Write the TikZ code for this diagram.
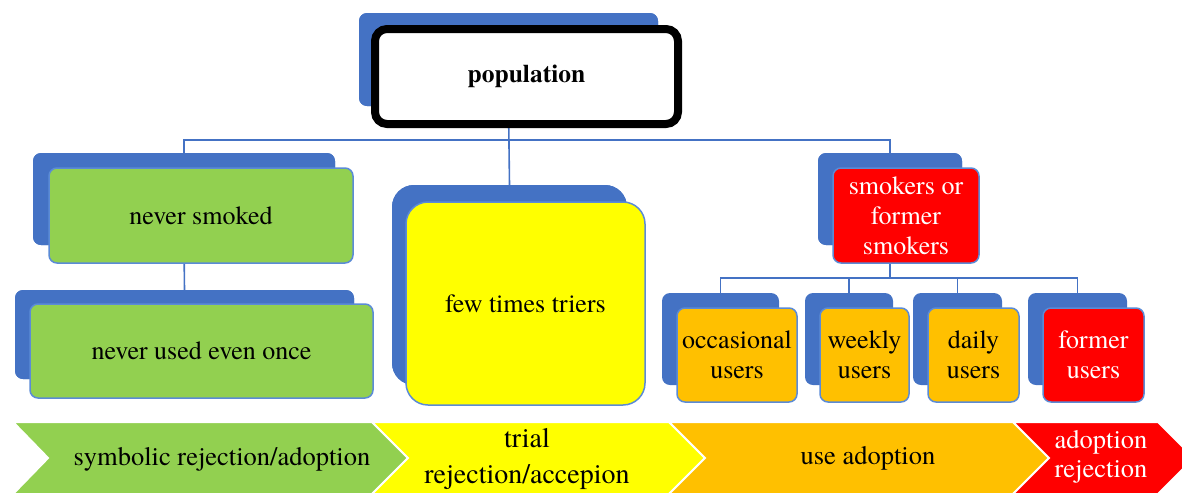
\documentclass[tikz,border=0pt]{standalone}
\usepackage{fontspec}
\setmainfont{texgyretermes}[Extension=.otf, UprightFont=*-regular, BoldFont=*-bold, ItalicFont=*-italic, BoldItalicFont=*-bolditalic]
\definecolor{bblue}{HTML}{4472C4}
\definecolor{lblue}{HTML}{5B8BD6}
\definecolor{cgreen}{HTML}{92D050}
\definecolor{cyellow}{HTML}{FFFF00}
\definecolor{corange}{HTML}{FFC000}
\definecolor{cred}{HTML}{FF0000}
\tikzset{
  backbox/.style={fill=bblue, draw=none, rounded corners=8pt, inner sep=0pt, outer sep=0pt},
  frontbox/.style={draw=lblue, line width=1.5pt, rounded corners=8pt, inner sep=0pt, align=center,
     font=\fontsize{26}{30}\selectfont},
  conn/.style={draw=bblue, line width=1.6pt},
  chev/.style={draw=white, line width=2pt},
  chevtext/.style={font=\fontsize{26.5}{32}\selectfont, align=center, inner sep=0pt},
}
\begin{document}
\begin{tikzpicture}[x=1pt,y=-1pt]
\useasboundingbox (0,0) rectangle (1182,493);
% back boxes (placed first so connectors can use their anchors)
\node[backbox, minimum width=299pt, minimum height=93pt] (popback) at (508.5,59.5) {};
\node[backbox, minimum width=302pt, minimum height=92pt] (nsback) at (184,199) {};
\node[backbox, minimum width=339pt, minimum height=89pt] (nuback) at (184.5,334.5) {};
\node[backbox, rounded corners=22pt, minimum width=235pt, minimum height=200pt] (fewback) at (509.5,285) {};
\node[backbox, minimum width=144pt, minimum height=92pt] (smback) at (890,199) {};
\node[backbox, minimum width=117pt, minimum height=92pt] (occback) at (720.5,339) {};
\node[backbox, minimum width=88pt, minimum height=92pt] (wkback) at (849,339) {};
\node[backbox, minimum width=89pt, minimum height=92pt] (dyback) at (957.5,339) {};
\node[backbox, minimum width=99pt, minimum height=92pt] (fuback) at (1077.5,339) {};
% connectors
\coordinate (bus1) at (popback.south |- 0,140);
\coordinate (bus2) at (smback.south |- 0,278);
\path[conn] (popback.south) -- (fewback.north);
\path[conn] (nsback.north) |- (bus1) -| (smback.north);
\path[conn] (nsback.south) -- (nuback.north);
\path[conn] (smback.south) -- (bus2);
\path[conn] (occback.north) |- (bus2) -| (fuback.north);
\path[conn] (wkback.north) -- (wkback.north |- bus2);
\path[conn] (dyback.north) -- (dyback.north |- bus2);
% redraw back boxes over connectors
\node[backbox, minimum width=299pt, minimum height=93pt] at (508.5,59.5) {};
\node[backbox, minimum width=302pt, minimum height=92pt] at (184,199) {};
\node[backbox, minimum width=339pt, minimum height=89pt] at (184.5,334.5) {};
\node[backbox, rounded corners=22pt, minimum width=235pt, minimum height=200pt] at (509.5,285) {};
\node[backbox, minimum width=144pt, minimum height=92pt] at (890,199) {};
% front boxes
\node[frontbox, draw=black, line width=8pt, fill=white, rounded corners=12pt,
      minimum width=303pt, minimum height=95pt, font=\fontsize{25.5}{30}\selectfont\bfseries]
      (pop) at (526.5,76.5) {population};
\node[frontbox, fill=cgreen, minimum width=304pt, minimum height=95pt] (ns) at (201,215.5) {never smoked};
\node[frontbox, fill=cgreen, minimum width=343pt, minimum height=94pt] (nu) at (201.5,351) {never used even once};
\node[frontbox, fill=cyellow, rounded corners=22pt, minimum width=239pt, minimum height=203pt] (few) at (525.5,303.5) {few times triers};
\node[frontbox, fill=cred, text=white, minimum width=146pt, minimum height=95pt] (sm) at (906,215.5) {smokers or\\former\\smokers};
\node[frontbox, fill=corange, minimum width=120pt, minimum height=94pt] (occ) at (737,355) {occasional\\users};
\node[frontbox, fill=corange, minimum width=89pt, minimum height=94pt] (wk) at (864.5,355) {weekly\\users};
\node[frontbox, fill=corange, minimum width=91pt, minimum height=94pt] (dy) at (973.5,355) {daily\\users};
\node[frontbox, fill=cred, text=white, minimum width=101pt, minimum height=94pt] (fu) at (1093.5,355) {former\\users};
% chevrons
\begin{scope}
\clip (0,0) rectangle (1182,493);
\path[chev, fill=cgreen] (13,422) -- (372,422) -- (408,458) -- (372,494) -- (13,494) -- (48,458) -- cycle;
\path[chev, fill=cyellow] (372,422) -- (669,422) -- (705,458) -- (669,494) -- (372,494) -- (408,458) -- cycle;
\path[chev, fill=corange] (669,422) -- (1013,422) -- (1049,458) -- (1013,494) -- (669,494) -- (705,458) -- cycle;
\path[chev, fill=cred] (1013,422) -- (1158,422) -- (1194,458) -- (1158,494) -- (1013,494) -- (1049,458) -- cycle;
\end{scope}
\node[chevtext] (c1) at (222,459) {symbolic rejection/adoption};
\node[chevtext, font=\fontsize{28}{36}\selectfont] (c2) at (527,459) {trial\\rejection/accepion};
\node[chevtext] (c3) at (868,458) {use adoption};
\node[chevtext, text=white, font=\fontsize{26.5}{29}\selectfont] (c4) at (1101,457) {adoption\\rejection};
\end{tikzpicture}
\end{document}
